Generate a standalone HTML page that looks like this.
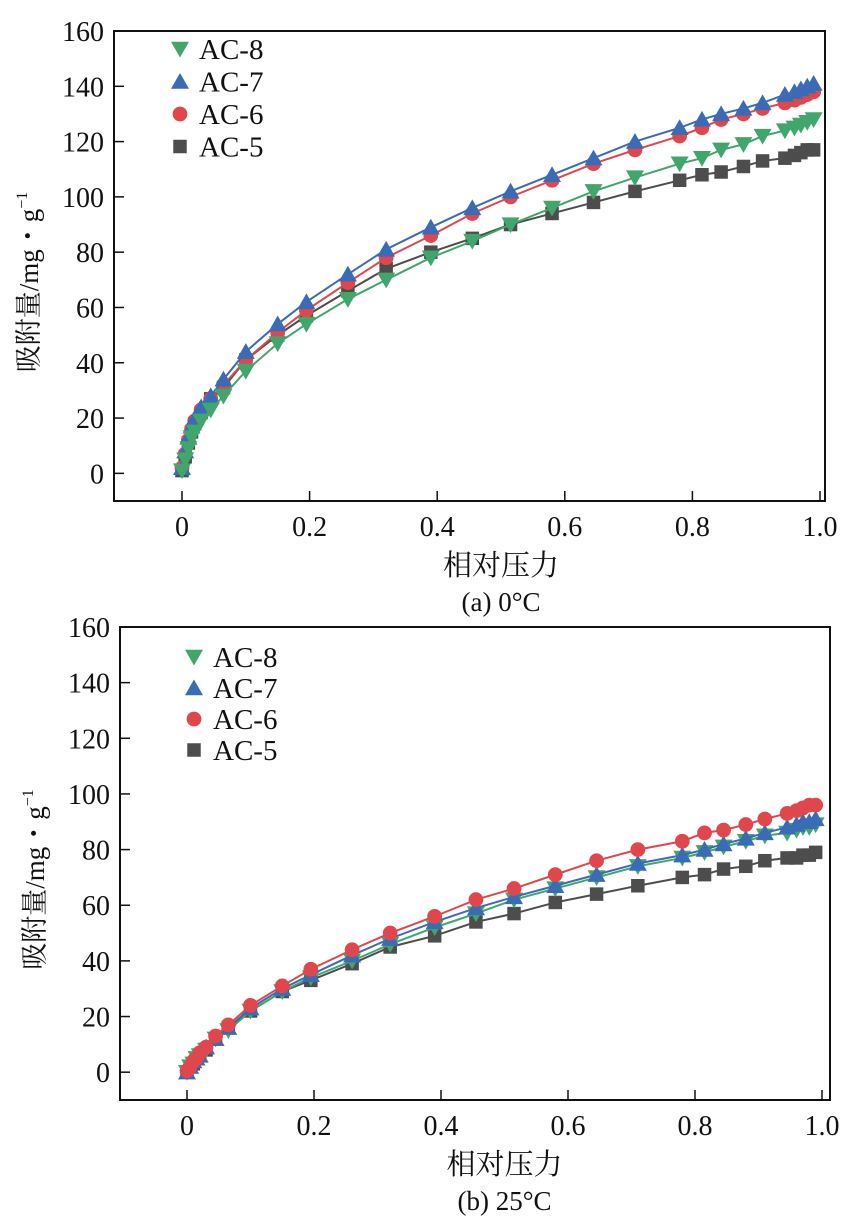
<!DOCTYPE html>
<html><head><meta charset="utf-8">
<style>
html,body{margin:0;padding:0;background:#fff;}
text{font-family:"Liberation Serif","DejaVu Serif","Noto Serif CJK SC",serif;fill:#111;}
</style></head>
<body>
<svg id="chart" width="859" height="1222" xmlns="http://www.w3.org/2000/svg"></svg>
<script>
const pressures=[0,0.005,0.01,0.015,0.02,0.03,0.045,0.065,0.1,0.15,0.195,0.26,0.32,0.39,0.455,0.515,0.58,0.645,0.71,0.78,0.815,0.845,0.88,0.91,0.945,0.96,0.97,0.98,0.99];
const seriesNames=["AC-8","AC-7","AC-6","AC-5"];
const xTicks=[0,0.2,0.4,0.6,0.8,1.0];
const xTickLabels=["0","0.2","0.4","0.6","0.8","1.0"];
const yTicks=[0,20,40,60,80,100,120,140,160];
const top_AC8=[1,5,9,13,15,19,23,28,37,47,54,63,70,78,84,90,96,102,107,112,114,117,119,122,124,125,126,127,128];
const top_AC7=[2,8,13,17,20,24,28,34,44,54,62,72,81,89,96,102,108,114,120,125,128,130,132,134,137,138,139,140,141];
const top_AC6=[2,7,12,16,19,23,27,32,41,51,59,69,78,86,94,100,106,112,117,122,125,128,130,132,134,135,136,137,138];
const top_AC5=[1,6,11,15,18,22,27,31,41,50,57,66,74,80,85,90,94,98,102,106,108,109,111,113,114,115,116,117,117];
const bot_AC8=[0,2,3,5,6,8,12,15,22,29,34,40,46,52,57,62,66,70,74,77,79,81,83,85,86,87,88,88,89];
const bot_AC7=[0,2,4,5,6,9,12,16,23,30,35,42,48,54,59,63,67,71,75,78,80,82,84,86,88,89,90,90,91];
const bot_AC6=[0.5,2,4,5,7,9,13,17,24,31,37,44,50,56,62,66,71,76,80,83,86,87,89,91,93,94,95,96,96];
const bot_AC5=[0,2,3,5,6,8,12,16,22,29,33,39,45,49,54,57,61,64,67,70,71,73,74,76,77,77,78,78,79];

const NS="http://www.w3.org/2000/svg";
const svg=document.getElementById('chart');
const colors=["#41a66b","#3a6bb5","#e0474c","#4d4d4d"];
const shapes=["tri-down","tri-up","circle","square"];
function mk(tag,attrs,parent){const e=document.createElementNS(NS,tag);for(const k in attrs)e.setAttribute(k,attrs[k]);(parent||svg).appendChild(e);return e;}
function marker(g,shape,cx,cy,color,s){
  let e;
  if(shape==="tri-down")e=mk('polygon',{points:`${cx-s},${cy-s*0.8} ${cx+s},${cy-s*0.8} ${cx},${cy+s*0.95}`,fill:color},g);
  else if(shape==="tri-up")e=mk('polygon',{points:`${cx-s},${cy+s*0.8} ${cx+s},${cy+s*0.8} ${cx},${cy-s*0.95}`,fill:color},g);
  else if(shape==="circle")e=mk('circle',{cx:cx,cy:cy,r:s*0.82,fill:color},g);
  else e=mk('rect',{x:cx-s*0.75,y:cy-s*0.75,width:s*1.5,height:s*1.5,fill:color},g);
  return e;
}
function drawChart(cfg){
  const xS=v=>cfg.xz+v*(cfg.xo-cfg.xz);
  const yS=v=>cfg.y1-(v-(-10))/170*(cfg.y1-cfg.y0);
  const g=mk('g',{});
  
  
  const fr=mk('rect',{x:cfg.x0,y:cfg.y0,width:cfg.x1-cfg.x0,height:cfg.y1-cfg.y0,fill:'none',stroke:'#111','stroke-width':2},g);
  
  
  xTicks.forEach((t,i)=>{
    const x=xS(t);
    const l=mk('line',{x1:x,x2:x,y1:cfg.y1,y2:cfg.y1-10,stroke:'#111','stroke-width':1.5},g);
    
    
    const tx=mk('text',{x:x,y:cfg.y1+35,'font-size':28,'text-anchor':'middle'},g);
    tx.textContent=xTickLabels[i];
    
    
  });
  yTicks.forEach(t=>{
    const y=yS(t);
    const l=mk('line',{x1:cfg.x0,x2:cfg.x0+10,y1:y,y2:y,stroke:'#111','stroke-width':1.5},g);
    
    
    const tx=mk('text',{x:cfg.x0-10,y:y+10,'font-size':28,'text-anchor':'end'},g);
    tx.textContent=String(t);
    
    
  });
  cfg.order.forEach(si=>{
    const vals=cfg.data[si];
    const sg=mk('g',{},g);
    
    
    const pts=pressures.map((p,i)=>xS(p)+','+yS(vals[i])).join(' ');
    const pl=mk('polyline',{points:pts,fill:'none',stroke:colors[si],'stroke-width':2},sg);
    
    
    pressures.forEach((p,i)=>{
      const m=marker(sg,shapes[si],xS(p),yS(vals[i]),colors[si],9);
      
      
    });
  });
  seriesNames.forEach((n,i)=>{
    const y=cfg.legY+i*cfg.legDy;
    const lg=mk('g',{},g);
    
    
    marker(lg,shapes[i],cfg.legX,y,colors[i],9);
    const tx=mk('text',{x:cfg.legX+19,y:y+10,'font-size':29},lg);
    tx.textContent=n;
  });
  const xt=mk('text',{x:xS(0.5),y:cfg.y1+74,'font-size':29,'text-anchor':'middle'},g);
  xt.textContent='相对压力';
  
  
  const yc=(cfg.y0+cfg.y1)/2+16;
  const yt=mk('text',{x:0,y:0,'font-size':27,'text-anchor':'middle',transform:`translate(${cfg.x0-76},${yc}) rotate(-90)`},g);
  yt.innerHTML='吸附量/mg・g<tspan dy="-11" font-size="16">−1</tspan>';
  
  
  const cap=mk('text',{x:xS(0.5),y:cfg.y1+110,'font-size':27,'text-anchor':'middle'},g);
  cap.textContent=cfg.caption;
  
  
}
drawChart({name:'chart-0c',x0:114,x1:825,y0:31,y1:501,xz:182,xo:820,data:[top_AC8,top_AC7,top_AC6,top_AC5],order:[3,2,1,0],legX:180,legY:49,legDy:32.5,caption:'(a) 0°C'});
drawChart({name:'chart-25c',x0:120,x1:830,y0:627,y1:1100,xz:187,xo:822,data:[bot_AC8,bot_AC7,bot_AC6,bot_AC5],order:[3,0,1,2],legX:194,legY:657,legDy:31,caption:'(b) 25°C'});
</script>
</body></html>
